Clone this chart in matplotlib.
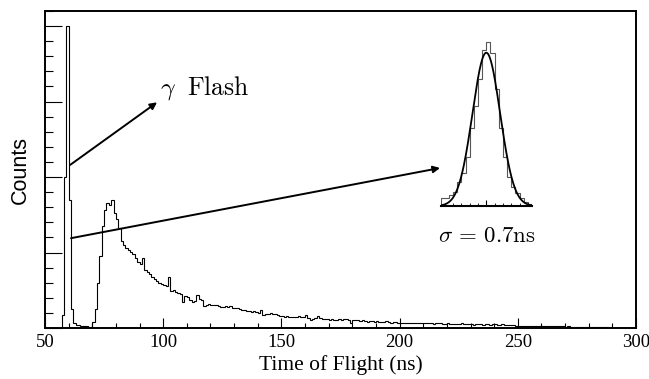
import numpy as np
import matplotlib
matplotlib.use("Agg")
from matplotlib import pyplot as plt
from matplotlib.ticker import MultipleLocator

plt.rcParams['mathtext.fontset'] = 'cm'

# time of flight histogram, 1 ns bins from 50 to 300 ns (arbitrary count units)
tof_start = 50
tof_stop = 300
counts = [
    0, 0, 0, 0, 0, 0, 0,                                              # 50-56
    0.17, 2.0, 4.0, 1.7, 0.25, 0.06, 0.04, 0.035, 0.03, 0.03,         # 57-66
    0.02, 0.01, 0.01, 0.08, 0.25, 0.60, 0.95, 1.35, 1.57, 1.65,       # 67-76
    1.63, 1.70, 1.52, 1.44, 1.32, 1.15, 1.10, 1.06, 1.04, 1.01,       # 77-86
    0.98, 0.93, 0.88, 0.85, 0.93, 0.77, 0.74, 0.72, 0.67, 0.65,       # 87-96
    0.62, 0.60, 0.58, 0.57, 0.55, 0.68, 0.49, 0.51, 0.48, 0.47,       # 97-106
    0.45, 0.35, 0.42, 0.41, 0.37, 0.34, 0.36, 0.44, 0.39, 0.37,       # 107-116
    0.29, 0.30, 0.32, 0.31, 0.30, 0.30, 0.29, 0.28, 0.28, 0.29,       # 117-126
    0.28, 0.29, 0.27, 0.26, 0.26, 0.25, 0.24, 0.24, 0.23, 0.22,       # 127-136
    0.21, 0.22, 0.21, 0.20, 0.24, 0.17, 0.19, 0.19, 0.20, 0.18,       # 137-146
    0.18, 0.17, 0.16, 0.16, 0.15, 0.16, 0.15, 0.15, 0.14, 0.15,       # 147-156
    0.16, 0.15, 0.14, 0.17, 0.13, 0.10, 0.12, 0.13, 0.16, 0.13,       # 157-166
    0.12, 0.12, 0.12, 0.11, 0.12, 0.11, 0.11, 0.12, 0.11, 0.12,       # 167-176
    0.12, 0.11, 0.07, 0.10, 0.11, 0.10,                               # 177-182
    0.09, 0.10, 0.09, 0.08, 0.09, 0.09, 0.08, 0.09, 0.08, 0.08,       # 183-192
    0.08, 0.09, 0.08, 0.07, 0.08, 0.08, 0.07, 0.07, 0.06, 0.07,       # 193-202
    0.06, 0.06, 0.07, 0.06, 0.06, 0.06, 0.06, 0.07, 0.06, 0.06,       # 203-212
    0.06, 0.05, 0.06, 0.06, 0.06, 0.05, 0.05, 0.06, 0.05, 0.05,       # 213-222
    0.05, 0.05, 0.05, 0.06, 0.05, 0.05, 0.05, 0.05, 0.04, 0.05,       # 223-232
    0.05, 0.05, 0.04, 0.05, 0.05, 0.04, 0.05, 0.05, 0.04, 0.04,       # 233-242
    0.05, 0.04, 0.04, 0.04, 0.04, 0.04, 0.03, 0.03, 0.03, 0.03,       # 243-252
    0.03, 0.03, 0.03, 0.03, 0.03, 0.02, 0.02, 0.02, 0.02, 0.02,       # 253-262
    0.02, 0.02, 0.02, 0.02, 0.02, 0.02, 0.02, 0.01, 0.02, 0.01,       # 263-272
    0.01, 0.01, 0.01, 0.01, 0.01, 0.01, 0.01, 0.01, 0.01, 0.01,       # 273-282
    0.01, 0.01, 0.01, 0.01, 0.01, 0.005, 0.01, 0.005, 0.005, 0.005,   # 283-292
    0.005, 0.005, 0.005, 0.005, 0.005, 0.005, 0.005,                  # 293-299
]
edges = np.arange(tof_start, tof_stop + 1, 1)

# zoomed gamma flash peak, 0.5 bins from -5.5 to 5.5 (tick units), peak normalised
flash_counts = [0.05, 0.05, 0.072, 0.094, 0.159, 0.213, 0.32, 0.51, 0.65, 0.83, 1.02,
                1.07, 1.0, 0.76, 0.51, 0.32, 0.19, 0.126, 0.083, 0.05, 0.028, 0.013]
flash_edges = np.linspace(-5.5, 5.5, len(flash_counts) + 1)
fit_mu, fit_sigma, fit_amp = 0.0, 1.66, 1.0

fig = plt.figure(figsize=(6.49, 3.79), dpi=100)
ax = fig.add_axes([45/649, 1 - 328/379, (636-45)/649, (328-11)/379])

ax.stairs(counts, edges, color='black', lw=0.8)
ax.set_xlim(tof_start, tof_stop)
ax.set_ylim(0, 4.2)

ax.xaxis.set_major_locator(MultipleLocator(50))
ax.xaxis.set_minor_locator(MultipleLocator(10))
ax.yaxis.set_major_locator(MultipleLocator(1))
ax.yaxis.set_minor_locator(MultipleLocator(0.2))
ax.tick_params(axis='both', which='both', direction='in', top=False, right=False, width=0.8)
ax.tick_params(axis='x', which='major', length=7, labelsize=13.5, pad=4)
ax.tick_params(axis='x', which='minor', length=3.5)
ax.tick_params(axis='y', which='major', length=12, labelleft=False)
ax.tick_params(axis='y', which='minor', length=6)
for lab in ax.get_xticklabels():
    lab.set_family('Liberation Serif')
for sp in ax.spines.values():
    sp.set_linewidth(1.4)

ax.set_xlabel('Time of Flight (ns)', family='Liberation Serif', fontsize=15.5, labelpad=3)
ax.set_ylabel('Counts', family='Liberation Sans', fontsize=15.5, labelpad=7)

arrow = dict(arrowstyle='-|>', lw=1.4, color='black', mutation_scale=10, shrinkA=0, shrinkB=0)
ax.annotate('', xy=(97.4, 2.99), xytext=(60.6, 2.16), arrowprops=arrow)
ax.annotate('', xy=(217.1, 2.12), xytext=(61.0, 1.19), arrowprops=arrow)
ax.text(98.6, 3.09, r'$\gamma\ \;\mathrm{Flash}$', fontsize=18.5, va='baseline', ha='left')
ax.text(216.2, 1.14, r'$\sigma\,=\,0.7\mathrm{ns}$', fontsize=16.5, va='baseline', ha='left')

# inset with the gaussian fit of the flash
ins = fig.add_axes([440.6/649, 1 - 206/379, 91.4/649, 170/379])
ins.patch.set_visible(False)
ins.stairs(flash_counts, flash_edges, color='#555555', lw=0.8)
xf = np.linspace(-5.5, 5.5, 300)
ins.plot(xf, fit_amp * np.exp(-0.5 * ((xf - fit_mu) / fit_sigma) ** 2), color='black', lw=1.3)
ins.set_xlim(-5.5, 5.5)
ins.set_ylim(0, 1.109)
for side in ['top', 'left', 'right']:
    ins.spines[side].set_visible(False)
ins.spines['bottom'].set_linewidth(1.5)
ins.set_yticks([])
ins.set_xticks([0])
ins.xaxis.set_minor_locator(MultipleLocator(1))
ins.tick_params(axis='x', which='major', direction='in', length=4, width=0.8, labelbottom=False)
ins.tick_params(axis='x', which='minor', direction='in', length=2, width=0.6)

fig.savefig('out.png', dpi=100)
